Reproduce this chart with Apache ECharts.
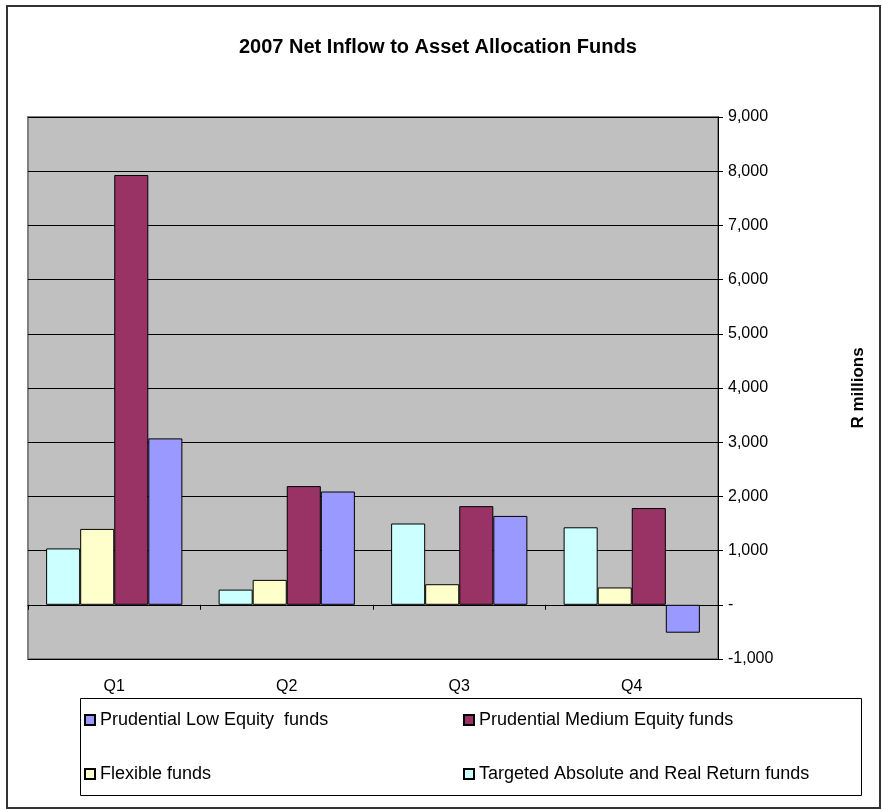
<!DOCTYPE html>
<html>
<head>
<meta charset="utf-8">
<script src="https://cdn.jsdelivr.net/npm/echarts@6/dist/echarts.min.js"></script>
<style>
  html, body { margin: 0; padding: 0; background: #fff; }
  #barChart { width: 882px; height: 810px; }
</style>
</head>
<body>
<div id="barChart"></div>
<script>
var quarters = ['Q1', 'Q2', 'Q3', 'Q4'];
var targeted = [1040, 280, 1500, 1430];
var flexible = [1400, 460, 380, 320];
var mediumEquity = [7930, 2190, 1820, 1785];
var lowEquity = [3070, 2090, 1640, -515];

var dom = document.getElementById('barChart');
var myChart = echarts.init(dom);
var font = 'Liberation Sans, Arial, sans-serif';

function bar(name, data, color) {
    return {
        name: name,
        type: 'bar',
        data: data,
        barGap: '0%',
        barCategoryGap: '21%',
        itemStyle: { color: color, borderColor: '#000', borderWidth: 1 }
    };
}

var legendText = { fontFamily: font, fontSize: 18, color: '#000' };

var option = {
    animation: false,
    title: {
        text: '2007 Net Inflow to Asset Allocation Funds',
        left: 234,
        top: 32,
        textStyle: { fontFamily: font, fontSize: 20, fontWeight: 'bold', color: '#000' }
    },
    legend: [{
        orient: 'vertical',
        data: ['Prudential Low Equity  funds', 'Flexible funds'],
        left: 79, top: 706, itemWidth: 10, itemHeight: 10, itemGap: 36,
        icon: 'rect', textStyle: legendText
    }, {
        orient: 'vertical',
        data: ['Prudential Medium Equity funds', 'Targeted Absolute and Real Return funds'],
        left: 458, top: 706, itemWidth: 10, itemHeight: 10, itemGap: 36,
        icon: 'rect', textStyle: legendText
    }],
    grid: {
        left: 28, right: 164, top: 117, bottom: 151,
        show: true, backgroundColor: '#c0c0c0', borderColor: '#808080', borderWidth: 2
    },
    xAxis: [{
        type: 'category',
        data: quarters,
        axisLine: { show: false, onZero: false },
        axisTick: { show: false },
        axisLabel: { fontFamily: font, fontSize: 16, color: '#000', margin: 20 }
    }, {
        type: 'category',
        data: quarters,
        position: 'bottom',
        axisLine: { onZero: true, lineStyle: { color: '#000', width: 1 } },
        axisTick: { show: true, length: 5, lineStyle: { color: '#000' } },
        axisLabel: { show: false }
    }],
    yAxis: {
        type: 'value',
        position: 'right',
        min: -1000, max: 9000, interval: 1000,
        name: 'R millions',
        nameLocation: 'middle',
        nameRotate: 90,
        nameGap: 132,
        nameTextStyle: { fontFamily: font, fontSize: 17, fontWeight: 'bold', color: '#000' },
        axisLine: { show: true, lineStyle: { color: '#000', width: 1 } },
        axisTick: { show: true, length: 5, lineStyle: { color: '#000' } },
        axisLabel: {
            fontFamily: font, fontSize: 16, color: '#000', margin: 10,
            formatter: function (v) { return v === 0 ? '-' : v.toLocaleString('en-US'); }
        },
        splitLine: { lineStyle: { color: '#000', width: 1 } }
    },
    graphic: [{
        type: 'rect',
        shape: { x: 7, y: 6, width: 873, height: 802 },
        style: { fill: null, stroke: '#333', lineWidth: 2 },
        silent: true
    }, {
        type: 'rect',
        shape: { x: 80.5, y: 698.5, width: 781, height: 97 },
        style: { fill: null, stroke: '#000', lineWidth: 1 },
        silent: true
    }],
    series: [
        bar('Targeted Absolute and Real Return funds', targeted, '#ccffff'),
        bar('Flexible funds', flexible, '#ffffcc'),
        bar('Prudential Medium Equity funds', mediumEquity, '#993366'),
        bar('Prudential Low Equity  funds', lowEquity, '#9999ff')
    ]
};
myChart.setOption(option);
</script>
</body>
</html>
